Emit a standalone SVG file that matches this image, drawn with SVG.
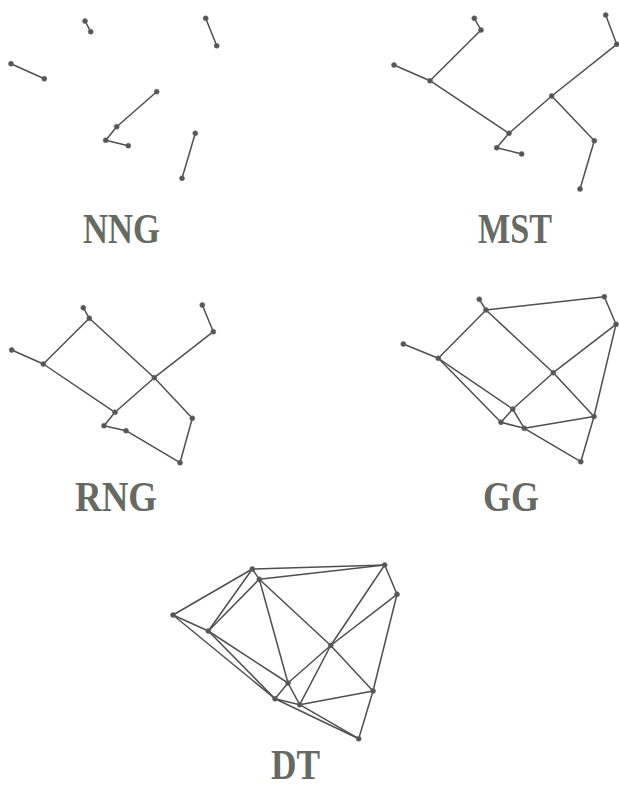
<svg xmlns="http://www.w3.org/2000/svg" width="619" height="788" viewBox="0 0 619 788">
  <style>
    .edge { stroke: #4f4f4f; stroke-width: 1.5; stroke-linecap: round; fill: none; }
    .pt { fill: #555555; stroke: #6a6a6a; stroke-width: 0.6; }
    .label { font-family: "Liberation Serif", "Times New Roman", serif; font-weight: bold; font-size: 43px; fill: #676a62; }
  </style>
  <rect width="619" height="788" fill="#ffffff"/>

  <!-- Nearest neighbour graph -->
  <g id="nng">
    <g id="nng-edges" class="edge">
      <line x1="85" y1="21" x2="90.7" y2="31.7"/>
      <line x1="205.7" y1="18.3" x2="216.7" y2="45.7"/>
      <line x1="11" y1="63.7" x2="44.3" y2="78.7"/>
      <line x1="156.7" y1="91.7" x2="116.7" y2="126.7"/>
      <line x1="116.7" y1="126.7" x2="105.7" y2="140.3"/>
      <line x1="105.7" y1="140.3" x2="128.3" y2="145.7"/>
      <line x1="195.3" y1="133.3" x2="182" y2="178.3"/>
    </g>
    <g id="nng-p1"><circle class="pt" cx="85" cy="21" r="2.5"/></g>
    <g id="nng-p2"><circle class="pt" cx="90.7" cy="31.7" r="2.5"/></g>
    <g id="nng-p3"><circle class="pt" cx="205.7" cy="18.3" r="2.5"/></g>
    <g id="nng-p4"><circle class="pt" cx="216.7" cy="45.7" r="2.5"/></g>
    <g id="nng-p5"><circle class="pt" cx="11" cy="63.7" r="2.5"/></g>
    <g id="nng-p6"><circle class="pt" cx="44.3" cy="78.7" r="2.5"/></g>
    <g id="nng-p7"><circle class="pt" cx="156.7" cy="91.7" r="2.5"/></g>
    <g id="nng-p8"><circle class="pt" cx="116.7" cy="126.7" r="2.5"/></g>
    <g id="nng-p9"><circle class="pt" cx="105.7" cy="140.3" r="2.5"/></g>
    <g id="nng-p10"><circle class="pt" cx="128.3" cy="145.7" r="2.5"/></g>
    <g id="nng-p11"><circle class="pt" cx="195.3" cy="133.3" r="2.5"/></g>
    <g id="nng-p12"><circle class="pt" cx="182" cy="178.3" r="2.5"/></g>
    <text class="label" x="83" y="243" textLength="77" lengthAdjust="spacingAndGlyphs">NNG</text>
  </g>

  <!-- Minimum spanning tree -->
  <g id="mst">
    <g id="mst-edges" class="edge">
      <line x1="474.3" y1="18.3" x2="481" y2="30"/>
      <line x1="481" y1="30" x2="430" y2="80.7"/>
      <line x1="394" y1="65" x2="430" y2="80.7"/>
      <line x1="430" y1="80.7" x2="509" y2="133.3"/>
      <line x1="509" y1="133.3" x2="496.7" y2="147.7"/>
      <line x1="496.7" y1="147.7" x2="521.7" y2="154"/>
      <line x1="509" y1="133.3" x2="551.7" y2="96"/>
      <line x1="551.7" y1="96" x2="616.7" y2="44.3"/>
      <line x1="616.7" y1="44.3" x2="605.7" y2="15"/>
      <line x1="551.7" y1="96" x2="594.3" y2="140.7"/>
      <line x1="594.3" y1="140.7" x2="580" y2="189"/>
    </g>
    <g id="mst-p1"><circle class="pt" cx="474.3" cy="18.3" r="2.5"/></g>
    <g id="mst-p2"><circle class="pt" cx="481" cy="30" r="2.5"/></g>
    <g id="mst-p3"><circle class="pt" cx="605.7" cy="15" r="2.5"/></g>
    <g id="mst-p4"><circle class="pt" cx="616.7" cy="44.3" r="2.5"/></g>
    <g id="mst-p5"><circle class="pt" cx="394" cy="65" r="2.5"/></g>
    <g id="mst-p6"><circle class="pt" cx="430" cy="80.7" r="2.5"/></g>
    <g id="mst-p7"><circle class="pt" cx="551.7" cy="96" r="2.5"/></g>
    <g id="mst-p8"><circle class="pt" cx="509" cy="133.3" r="2.5"/></g>
    <g id="mst-p9"><circle class="pt" cx="496.7" cy="147.7" r="2.5"/></g>
    <g id="mst-p10"><circle class="pt" cx="521.7" cy="154" r="2.5"/></g>
    <g id="mst-p11"><circle class="pt" cx="594.3" cy="140.7" r="2.5"/></g>
    <g id="mst-p12"><circle class="pt" cx="580" cy="189" r="2.5"/></g>
    <text class="label" x="478" y="243" textLength="74" lengthAdjust="spacingAndGlyphs">MST</text>
  </g>

  <!-- Relative neighbourhood graph -->
  <g id="rng">
    <g id="rng-edges" class="edge">
      <line x1="83.3" y1="307.7" x2="89.3" y2="318.3"/>
      <line x1="89.3" y1="318.3" x2="43.3" y2="364"/>
      <line x1="11.7" y1="350" x2="43.3" y2="364"/>
      <line x1="89.3" y1="318.3" x2="154.3" y2="377.7"/>
      <line x1="154.3" y1="377.7" x2="192.3" y2="418.3"/>
      <line x1="43.3" y1="364" x2="115" y2="412.3"/>
      <line x1="115" y1="412.3" x2="154.3" y2="377.7"/>
      <line x1="154.3" y1="377.7" x2="213.3" y2="331.7"/>
      <line x1="213.3" y1="331.7" x2="202.3" y2="305"/>
      <line x1="115" y1="412.3" x2="104" y2="425.7"/>
      <line x1="104" y1="425.7" x2="126" y2="430.7"/>
      <line x1="126" y1="430.7" x2="180" y2="462.7"/>
      <line x1="192.3" y1="418.3" x2="180" y2="462.7"/>
    </g>
    <g id="rng-p1"><circle class="pt" cx="83.3" cy="307.7" r="2.5"/></g>
    <g id="rng-p2"><circle class="pt" cx="89.3" cy="318.3" r="2.5"/></g>
    <g id="rng-p3"><circle class="pt" cx="202.3" cy="305" r="2.5"/></g>
    <g id="rng-p4"><circle class="pt" cx="213.3" cy="331.7" r="2.5"/></g>
    <g id="rng-p5"><circle class="pt" cx="11.7" cy="350" r="2.5"/></g>
    <g id="rng-p6"><circle class="pt" cx="43.3" cy="364" r="2.5"/></g>
    <g id="rng-p7"><circle class="pt" cx="154.3" cy="377.7" r="2.5"/></g>
    <g id="rng-p8"><circle class="pt" cx="115" cy="412.3" r="2.5"/></g>
    <g id="rng-p9"><circle class="pt" cx="104" cy="425.7" r="2.5"/></g>
    <g id="rng-p10"><circle class="pt" cx="126" cy="430.7" r="2.5"/></g>
    <g id="rng-p11"><circle class="pt" cx="192.3" cy="418.3" r="2.5"/></g>
    <g id="rng-p12"><circle class="pt" cx="180" cy="462.7" r="2.5"/></g>
    <text class="label" x="75" y="511" textLength="82" lengthAdjust="spacingAndGlyphs">RNG</text>
  </g>

  <!-- Gabriel graph -->
  <g id="gg">
    <g id="gg-edges" class="edge">
      <line x1="479.3" y1="299.3" x2="486" y2="310"/>
      <line x1="486" y1="310" x2="604.3" y2="296.7"/>
      <line x1="604.3" y1="296.7" x2="616" y2="324.3"/>
      <line x1="486" y1="310" x2="438.3" y2="358.3"/>
      <line x1="403.3" y1="344" x2="438.3" y2="358.3"/>
      <line x1="486" y1="310" x2="553.3" y2="372.7"/>
      <line x1="553.3" y1="372.7" x2="594" y2="416.5"/>
      <line x1="438.3" y1="358.3" x2="512.7" y2="409"/>
      <line x1="438.3" y1="358.3" x2="501" y2="422.3"/>
      <line x1="512.7" y1="409" x2="553.3" y2="372.7"/>
      <line x1="553.3" y1="372.7" x2="616" y2="324.3"/>
      <line x1="616" y1="324.3" x2="594" y2="416.5"/>
      <line x1="594" y1="416.5" x2="580.8" y2="461.7"/>
      <line x1="512.7" y1="409" x2="501" y2="422.3"/>
      <line x1="512.7" y1="409" x2="524.3" y2="428.3"/>
      <line x1="501" y1="422.3" x2="524.3" y2="428.3"/>
      <line x1="524.3" y1="428.3" x2="594" y2="416.5"/>
      <line x1="524.3" y1="428.3" x2="580.8" y2="461.7"/>
    </g>
    <g id="gg-p1"><circle class="pt" cx="479.3" cy="299.3" r="2.5"/></g>
    <g id="gg-p2"><circle class="pt" cx="486" cy="310" r="2.5"/></g>
    <g id="gg-p3"><circle class="pt" cx="604.3" cy="296.7" r="2.5"/></g>
    <g id="gg-p4"><circle class="pt" cx="616" cy="324.3" r="2.5"/></g>
    <g id="gg-p5"><circle class="pt" cx="403.3" cy="344" r="2.5"/></g>
    <g id="gg-p6"><circle class="pt" cx="438.3" cy="358.3" r="2.5"/></g>
    <g id="gg-p7"><circle class="pt" cx="553.3" cy="372.7" r="2.5"/></g>
    <g id="gg-p8"><circle class="pt" cx="512.7" cy="409" r="2.5"/></g>
    <g id="gg-p9"><circle class="pt" cx="501" cy="422.3" r="2.5"/></g>
    <g id="gg-p10"><circle class="pt" cx="524.3" cy="428.3" r="2.5"/></g>
    <g id="gg-p11"><circle class="pt" cx="594" cy="416.5" r="2.5"/></g>
    <g id="gg-p12"><circle class="pt" cx="580.8" cy="461.7" r="2.5"/></g>
    <text class="label" x="483" y="511" textLength="56" lengthAdjust="spacingAndGlyphs">GG</text>
  </g>

  <!-- Delaunay triangulation -->
  <g id="dt">
    <g id="dt-edges" class="edge">
      <line x1="252.3" y1="569" x2="259.3" y2="579.3"/>
      <line x1="252.3" y1="569" x2="384.7" y2="565"/>
      <line x1="259.3" y1="579.3" x2="384.7" y2="565"/>
      <line x1="252.3" y1="569" x2="173" y2="615"/>
      <line x1="252.3" y1="569" x2="208.3" y2="631"/>
      <line x1="259.3" y1="579.3" x2="208.3" y2="631"/>
      <line x1="173" y1="615" x2="208.3" y2="631"/>
      <line x1="173" y1="615" x2="275" y2="698.7"/>
      <line x1="208.3" y1="631" x2="288" y2="683"/>
      <line x1="208.3" y1="631" x2="275" y2="698.7"/>
      <line x1="259.3" y1="579.3" x2="288" y2="683"/>
      <line x1="259.3" y1="579.3" x2="330.7" y2="645.5"/>
      <line x1="384.7" y1="565" x2="330.7" y2="645.5"/>
      <line x1="384.7" y1="565" x2="397" y2="594.3"/>
      <line x1="397" y1="594.3" x2="330.7" y2="645.5"/>
      <line x1="397" y1="594.3" x2="373" y2="691"/>
      <line x1="330.7" y1="645.5" x2="373" y2="691"/>
      <line x1="330.7" y1="645.5" x2="288" y2="683"/>
      <line x1="330.7" y1="645.5" x2="299.7" y2="704.7"/>
      <line x1="288" y1="683" x2="275" y2="698.7"/>
      <line x1="288" y1="683" x2="299.7" y2="704.7"/>
      <line x1="275" y1="698.7" x2="299.7" y2="704.7"/>
      <line x1="275" y1="698.7" x2="358.7" y2="738.7"/>
      <line x1="299.7" y1="704.7" x2="358.7" y2="738.7"/>
      <line x1="299.7" y1="704.7" x2="373" y2="691"/>
      <line x1="373" y1="691" x2="358.7" y2="738.7"/>
    </g>
    <g id="dt-p1"><circle class="pt" cx="252.3" cy="569" r="2.5"/></g>
    <g id="dt-p2"><circle class="pt" cx="259.3" cy="579.3" r="2.5"/></g>
    <g id="dt-p3"><circle class="pt" cx="384.7" cy="565" r="2.5"/></g>
    <g id="dt-p4"><circle class="pt" cx="397" cy="594.3" r="2.5"/></g>
    <g id="dt-p5"><circle class="pt" cx="173" cy="615" r="2.5"/></g>
    <g id="dt-p6"><circle class="pt" cx="208.3" cy="631" r="2.5"/></g>
    <g id="dt-p7"><circle class="pt" cx="330.7" cy="645.5" r="2.5"/></g>
    <g id="dt-p8"><circle class="pt" cx="288" cy="683" r="2.5"/></g>
    <g id="dt-p9"><circle class="pt" cx="275" cy="698.7" r="2.5"/></g>
    <g id="dt-p10"><circle class="pt" cx="299.7" cy="704.7" r="2.5"/></g>
    <g id="dt-p11"><circle class="pt" cx="373" cy="691" r="2.5"/></g>
    <g id="dt-p12"><circle class="pt" cx="358.7" cy="738.7" r="2.5"/></g>
    <text class="label" x="271" y="779" font-size="40" textLength="49" lengthAdjust="spacingAndGlyphs">DT</text>
  </g>
</svg>
